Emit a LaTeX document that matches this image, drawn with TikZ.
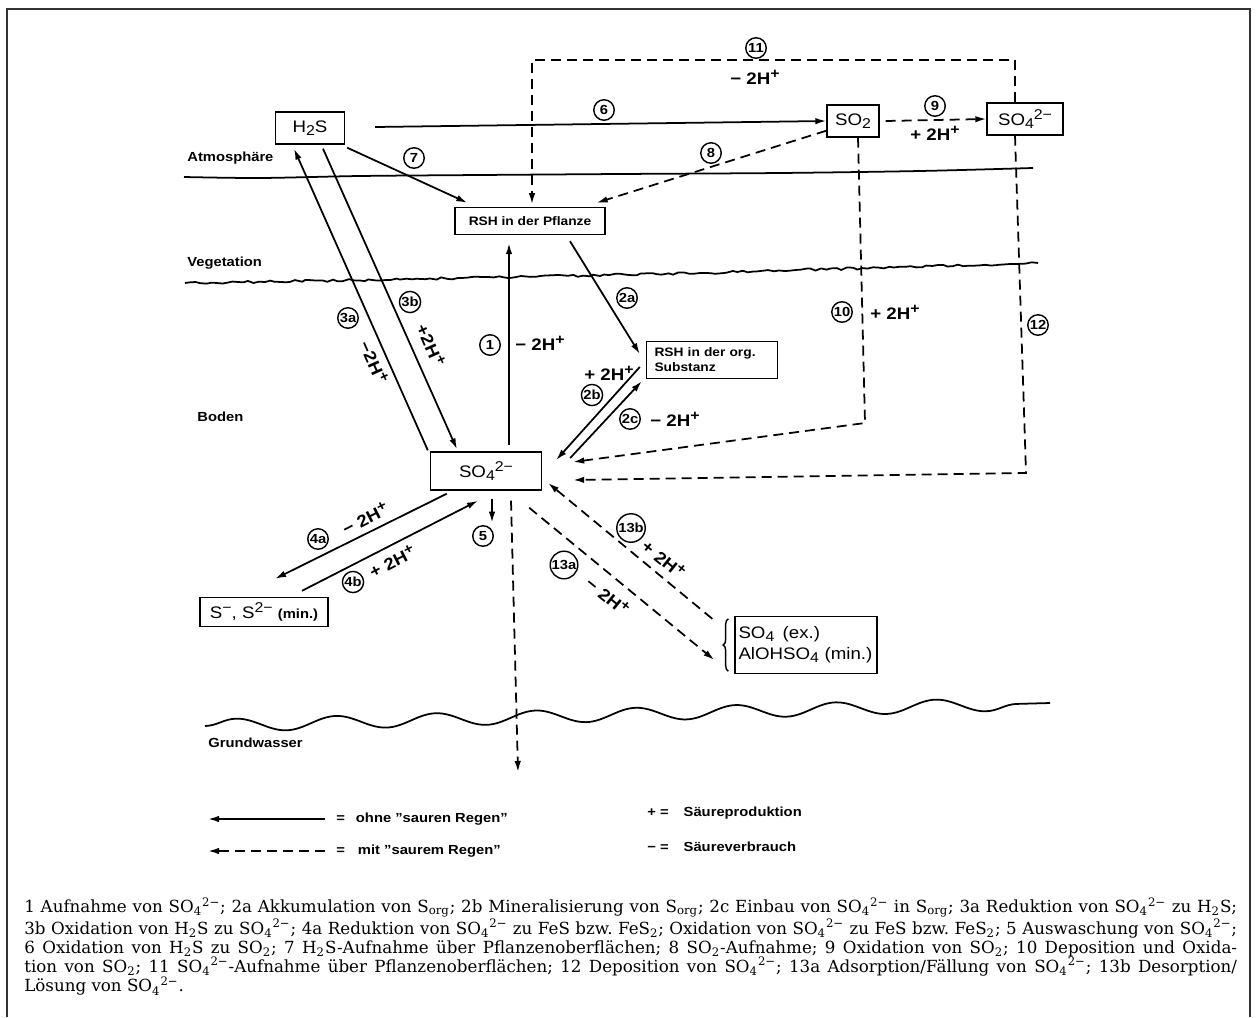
\documentclass[tikz,border=0pt]{standalone}
\usepackage{fontspec}
\setsansfont{Liberation Sans}[FakeStretch=1.12]
\newfontfamily\capfont{DejaVu Serif}
\usetikzlibrary{arrows.meta,decorations.pathmorphing,decorations.pathreplacing}
\newcommand{\chemdn}[1]{\raisebox{-0.35ex}{\scalebox{0.85}{#1}}}
\newcommand{\chemup}[1]{\raisebox{0.65ex}{\scalebox{0.85}{#1}}}
\newcommand{\protons}{2H\chemup{+}}
\newcommand{\sulfate}{SO\textsubscript{4}\textsuperscript{2−}}

\begin{document}
\frenchspacing
\begin{tikzpicture}[
  x=0.02cm,y=-0.02cm,
  box/.style={draw,thick,inner sep=1pt,font=\sffamily\fontsize{9.5}{11}\selectfont},
  rshbox/.style={draw,thick,inner sep=1pt,align=left,font=\sffamily\bfseries\fontsize{7}{8.5}\selectfont},
  num/.style={circle,draw,thick,fill=white,inner sep=0.3pt,minimum size=0.41cm,font=\sffamily\bfseries\fontsize{7.5}{7.5}\selectfont},
  proton/.style={inner sep=0pt,font=\sffamily\bfseries\fontsize{9.5}{10}\selectfont},
  zone/.style={inner sep=0pt,anchor=west,font=\sffamily\bfseries\fontsize{7.5}{8}\selectfont},
  keytext/.style={inner sep=0pt,anchor=west,font=\sffamily\bfseries\fontsize{7.5}{8}\selectfont},
  caption/.style={inner sep=0pt,anchor=north west,text width=24.26cm,align=justify,font=\capfont\fontsize{9.5}{10.93}\selectfont},
  flow/.style={-{Latex[length=2.2mm,width=1.3mm]},line width=1pt},
  rain/.style={flow,dash pattern=on 0.2cm off 0.12cm},
  border/.style={line width=1.2pt,black!80},
  horizon/.style={line width=1pt}
]
\useasboundingbox (0,0) rectangle (1256,1017);
\draw[border] (7,1017) -- (7,9) -- (1250,9) -- (1250,1017);

\draw[horizon] plot[smooth] coordinates {(184,177) (260,178) (360,176) (480,175) (620,174) (780,173) (920,171) (1033,168)};
\pgfmathsetseed{3}
\draw[horizon,decorate,decoration={random steps,segment length=3pt,amplitude=0.7pt}] (185,283) -- (420,279) -- (700,273) -- (1038,263);
\draw[horizon,decorate,decoration={snake,segment length=2cm,amplitude=0.13cm}] (205,726) -- (1050,703);
\node[zone] (atmo) at (187,158) {Atmosphäre};
\node[zone] (veg) at (187,263) {Vegetation};
\node[zone] (soil) at (197,417) {Boden};
\node[zone] (gw) at (208,743) {Grundwasser};

\node[box,minimum width=1.38cm,minimum height=0.64cm] (h2s) at (310,128) {H\chemdn{2}S};
\node[box,minimum width=1.04cm,minimum height=0.64cm] (so2) at (853,121) {SO\chemdn{2}};
\node[box,minimum width=1.52cm,minimum height=0.64cm] (so4air) at (1025,119) {SO\chemdn{4}\chemup{2−}};
\node[rshbox,minimum width=3cm,minimum height=0.54cm,align=center] (rshpl) at (530,221) {RSH in der Pflanze};
\node[rshbox,text width=2.3cm,inner xsep=0.16cm,minimum height=0.74cm] (rshorg) at (712,360) {RSH in der org.\\Substanz};
\node[box,minimum width=2.22cm,minimum height=0.76cm] (so4) at (486,471) {SO\chemdn{4}\chemup{2−}};
\node[box,minimum width=2.56cm,minimum height=0.58cm] (smin) at (264,612) {S\chemup{−}, S\chemup{2−} {\bfseries\fontsize{7.5}{8}\selectfont(min.)}};
\node[box,text width=2.7cm,inner xsep=0.07cm,minimum height=1.14cm,align=left] (so4ex) at (806,645) {SO\chemdn{4}\enspace(ex.)\\[1pt]AlOHSO\chemdn{4} (min.)};
\draw[thick,decorate,decoration={brace,amplitude=3pt}] ([shift={(-6,-3)}]so4ex.south west) -- ([shift={(-6,3)}]so4ex.north west);

\draw[flow] ([shift={(30,-1)}]h2s.east) -- (so2.west);
\draw[flow] ([shift={(2,3)}]h2s.south east) -- ([shift={(13,-4)}]rshpl.north west);
\draw[rain] ([shift={(0,-7)}]so2.south west) -- ([shift={(-9,-4)}]rshpl.north east);
\coordinate (k11) at (532,60);
\draw[rain,shorten >=1.5pt] ([shift={(-10,0)}]so4air.north) |- (k11) -- (rshpl.north -| k11);
\draw[rain] ([shift={(6,0)}]so2.east) -- (so4air.west);
\coordinate (k10) at (865,423);
\draw[rain] ([shift={(5,0)}]so2.south) -- (k10) -- ([shift={(31,-9)}]so4.east);
\coordinate (k12) at (1026,473);
\draw[rain] ([shift={(-10,0)}]so4air.south) -- (k12) -- ([shift={(31,9)}]so4.east);
\draw[flow] ([shift={(23,-6)}]so4.north) -- ([shift={(-21,8)}]rshpl.south);
\draw[flow] ([shift={(40,6)}]rshpl.south) -- ([shift={(-6,-6)}]rshorg.west);
\draw[flow] ([shift={(-6,7)}]rshorg.west) -- ([shift={(14,-11)}]so4.east);
\draw[flow] ([shift={(28,-13)}]so4.east) -- ([shift={(-4,2)}]rshorg.south west);
\draw[flow] ([shift={(-2,-1)}]so4.north west) -- ([shift={(-16,4)}]h2s.south);
\draw[flow] ([shift={(13,4)}]h2s.south) -- ([shift={(-29,-2)}]so4.north);
\draw[flow] ([shift={(17,3)}]so4.south west) -- ([shift={(11,-18)}]smin.north);
\draw[flow] ([shift={(38,-6)}]smin.north) -- ([shift={(-8,10)}]so4.south);
\draw[flow] ([shift={(6,8)}]so4.south) -- ([shift={(6,32)}]so4.south);
\coordinate (k5) at (518,772);
\draw[rain] ([shift={(25,10)}]so4.south) -- (k5);
\draw[rain] ([shift={(-13,17)}]so4.south east) -- ([shift={(-20,15)}]so4ex.west);
\draw[rain] ([shift={(-22,3)}]so4ex.north west) -- ([shift={(6,12)}]so4.east);

\node[num] (c1) at (490,345) {1};
\node[num] (c2a) at (627,298) {2a};
\node[num] (c2b) at (592,395) {2b};
\node[num] (c2c) at (630,419) {2c};
\node[num] (c3a) at (348,318) {3a};
\node[num] (c3b) at (410,302) {3b};
\node[num] (c4a) at (318,539) {4a};
\node[num] (c4b) at (353,582) {4b};
\node[num] (c5) at (483,536) {5};
\node[num] (c6) at (604,110) {6};
\node[num] (c7) at (414,158) {7};
\node[num] (c8) at (711,153) {8};
\node[num] (c9) at (935,106) {9};
\node[num] (c10) at (842,312) {10};
\node[num] (c11) at (756,48) {11};
\node[num] (c12) at (1038,325) {12};
\node[num] (c13a) at (564,565) {13a};
\node[num] (c13b) at (631,528) {13b};

\node[proton] (h1) at (540,343) {− \protons};
\node[proton] (h2b) at (609,373) {+ \protons};
\node[proton] (h2c) at (675,419) {− \protons};
\node[proton,rotate=-66] (h3a) at (374,362) {−\protons};
\node[proton,rotate=-66] (h3b) at (431,345) {+\protons};
\node[proton,rotate=27] (h4a) at (365,518) {− \protons};
\node[proton,rotate=27] (h4b) at (392,561) {+ \protons};
\node[proton] (h9) at (935,133) {+ \protons};
\node[proton] (h10) at (895,312) {+ \protons};
\node[proton] (h11) at (755,77) {− \protons};
\node[proton,rotate=-39] (h13a) at (608,596) {− \protons};
\node[proton,rotate=-39] (h13b) at (664,559) {+ \protons};

\node[keytext] (keysolid) at (336,819) {=\hspace{0.22cm}ohne "sauren Regen"};
\node[keytext] (keydash) at (336,851) {=\hspace{0.26cm}mit "saurem Regen"};
\coordinate (k1) at (208,819);
\coordinate (k2) at (208,851);
\draw[flow] ([shift={(-11,0)}]keysolid.west) -- (k1);
\draw[rain] ([shift={(-11,0)}]keydash.west) -- (k2);
\node[keytext] (keyplus) at (647,813) {+ =\hspace{0.3cm}Säureproduktion};
\node[keytext] (keyminus) at (647,847) {− =\hspace{0.3cm}Säureverbrauch};

\node[caption] (legendtext) at (24,897) {\noindent 1 Aufnahme von \sulfate; 2a Akkumulation von S\textsubscript{org}; 2b Mineralisierung von S\textsubscript{org}; 2c Einbau von \sulfate{} in S\textsubscript{org}; 3a Reduktion von \sulfate{} zu H\textsubscript{2}S;\linebreak
3b Oxidation von H\textsubscript{2}S zu \sulfate; 4a Reduktion von \sulfate{} zu FeS bzw. FeS\textsubscript{2}; Oxidation von \sulfate{} zu FeS bzw. FeS\textsubscript{2}; 5 Auswaschung von \sulfate;\linebreak
6 Oxidation von H\textsubscript{2}S zu SO\textsubscript{2}; 7 H\textsubscript{2}S-Aufnahme über Pflanzenoberflächen; 8 SO\textsubscript{2}-Aufnahme; 9 Oxidation von SO\textsubscript{2}; 10 Deposition und Oxida-\linebreak
tion von SO\textsubscript{2}; 11 \sulfate-Aufnahme über Pflanzenoberflächen; 12 Deposition von \sulfate; 13a Adsorption/Fällung von \sulfate; 13b Desorption/\linebreak
Lösung von \sulfate.};
\end{tikzpicture}
\end{document}
